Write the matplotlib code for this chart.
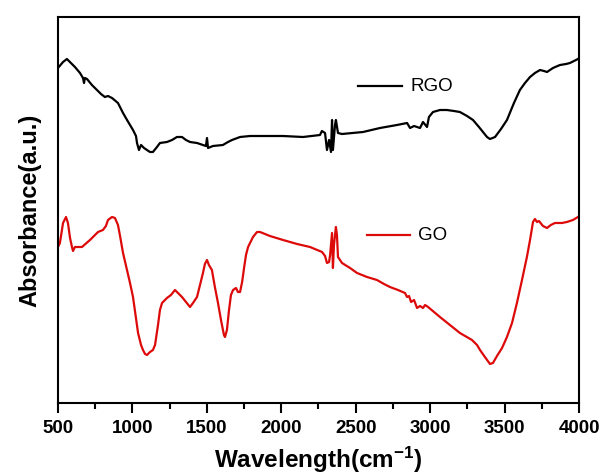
import matplotlib
matplotlib.use("Agg")
import matplotlib.pyplot as plt
from matplotlib.ticker import MultipleLocator

plt.rcParams["font.family"] = ["Liberation Sans", "DejaVu Sans"]
plt.rcParams["mathtext.fontset"] = "custom"
plt.rcParams["mathtext.rm"] = "Liberation Sans"
plt.rcParams["mathtext.bf"] = "Liberation Sans:bold"
plt.rcParams["mathtext.default"] = "bf"

# RGO spectrum (wavenumber, absorbance a.u.)
rgo_x = [500, 534, 560, 587, 614, 648, 668, 675, 681, 695, 728, 762, 789, 815, 836,
         863, 903, 937, 964, 1004, 1024, 1031, 1044, 1058, 1078, 1098, 1118, 1138, 1165,
         1185, 1232, 1266, 1299, 1333, 1360, 1387, 1434, 1474, 1494, 1501, 1508, 1541,
         1608, 1642, 1669, 1723, 1790, 2012, 2146, 2260, 2273, 2294, 2307, 2321, 2334,
         2341, 2347, 2361, 2367, 2381, 2408, 2549, 2663, 2777, 2845, 2865, 2892, 2932,
         2952, 2979, 2992, 3019, 3066, 3113, 3160, 3200, 3248, 3288, 3328, 3355, 3382,
         3402, 3436, 3476, 3516, 3563, 3603, 3637, 3671, 3704, 3738, 3765, 3785, 3825,
         3872, 3913, 3939, 3993, 4000]
rgo_y = [3.35, 3.41, 3.44, 3.40, 3.36, 3.30, 3.25, 3.20, 3.25, 3.24, 3.18, 3.13, 3.09,
         3.06, 3.07, 3.05, 3.00, 2.90, 2.83, 2.73, 2.67, 2.60, 2.53, 2.58, 2.55, 2.53,
         2.51, 2.51, 2.56, 2.60, 2.61, 2.63, 2.66, 2.66, 2.63, 2.61, 2.60, 2.58, 2.57,
         2.65, 2.55, 2.57, 2.58, 2.61, 2.63, 2.66, 2.67, 2.67, 2.66, 2.68, 2.72, 2.70,
         2.53, 2.63, 2.51, 2.83, 2.53, 2.78, 2.83, 2.70, 2.69, 2.71, 2.75, 2.78, 2.80,
         2.75, 2.77, 2.75, 2.81, 2.76, 2.86, 2.91, 2.93, 2.93, 2.92, 2.91, 2.87, 2.83,
         2.76, 2.71, 2.66, 2.64, 2.66, 2.74, 2.83, 3.00, 3.13, 3.20, 3.26, 3.30, 3.33,
         3.32, 3.31, 3.35, 3.38, 3.39, 3.40, 3.44, 3.45]

# GO spectrum
go_x = [500, 513, 534, 554, 567, 581, 594, 601, 614, 661, 715, 769, 802, 822, 836, 863,
        883, 903, 917, 937, 964, 984, 1004, 1024, 1038, 1058, 1071, 1085, 1098, 1118,
        1138, 1152, 1172, 1185, 1199, 1232, 1259, 1286, 1306, 1333, 1360, 1387, 1407,
        1434, 1454, 1474, 1487, 1501, 1514, 1534, 1554, 1575, 1595, 1615, 1622, 1635,
        1649, 1662, 1676, 1696, 1709, 1723, 1737, 1750, 1763, 1777, 1810, 1837, 1857,
        1924, 2012, 2106, 2193, 2274, 2294, 2307, 2321, 2328, 2341, 2347, 2354, 2367,
        2374, 2381, 2408, 2462, 2509, 2576, 2643, 2690, 2730, 2784, 2831, 2845, 2858,
        2872, 2892, 2912, 2932, 2952, 2966, 2986, 3026, 3066, 3133, 3200, 3247, 3281,
        3315, 3335, 3368, 3402, 3422, 3449, 3483, 3516, 3550, 3583, 3617, 3650, 3671,
        3691, 3704, 3718, 3731, 3758, 3785, 3811, 3838, 3885, 3919, 3959, 3993, 4000]
go_y = [1.56, 1.60, 1.80, 1.86, 1.80, 1.65, 1.56, 1.52, 1.56, 1.56, 1.63, 1.71, 1.73,
        1.77, 1.83, 1.86, 1.85, 1.78, 1.67, 1.50, 1.33, 1.20, 1.06, 0.85, 0.70, 0.58,
        0.53, 0.49, 0.48, 0.51, 0.53, 0.58, 0.78, 0.93, 1.00, 1.05, 1.08, 1.13, 1.10,
        1.06, 1.01, 0.96, 1.00, 1.06, 1.18, 1.30, 1.39, 1.43, 1.38, 1.33, 1.16, 1.00,
        0.83, 0.68, 0.66, 0.73, 0.93, 1.08, 1.13, 1.15, 1.11, 1.11, 1.21, 1.35, 1.48,
        1.56, 1.66, 1.71, 1.71, 1.67, 1.63, 1.59, 1.56, 1.51, 1.47, 1.40, 1.41, 1.48,
        1.70, 1.35, 1.58, 1.76, 1.68, 1.46, 1.40, 1.35, 1.30, 1.26, 1.23, 1.19, 1.16,
        1.13, 1.10, 1.06, 1.07, 1.01, 1.03, 0.95, 0.97, 0.95, 0.98, 0.96, 0.91, 0.86,
        0.78, 0.70, 0.66, 0.63, 0.58, 0.53, 0.46, 0.39, 0.40, 0.47, 0.55, 0.66, 0.80,
        1.00, 1.23, 1.46, 1.63, 1.81, 1.84, 1.81, 1.82, 1.77, 1.75, 1.78, 1.80, 1.80,
        1.81, 1.83, 1.86, 1.87]

red = "#dd0a0a"

fig = plt.figure(figsize=(6.02, 4.75), dpi=100)
ax = fig.add_axes([0.0963, 0.1516, 0.8655, 0.8126])

ax.plot(rgo_x, rgo_y, color="black", lw=1.6)
ax.plot(go_x, go_y, color=red, lw=1.6)

ax.set_xlim(500, 4000)
ax.set_ylim(0, 3.86)

# legend entries drawn by hand
ax.plot([0.576, 0.660], [0.821, 0.821], color="black", lw=1.6, transform=ax.transAxes)
ax.text(0.676, 0.821, "RGO", fontsize=13.5, va="center", transform=ax.transAxes)
ax.plot([0.593, 0.676], [0.435, 0.435], color=red, lw=1.6, transform=ax.transAxes)
ax.text(0.691, 0.435, "GO", fontsize=13.5, va="center", transform=ax.transAxes)

ax.xaxis.set_major_locator(MultipleLocator(500))
ax.xaxis.set_minor_locator(MultipleLocator(250))
ax.tick_params(axis="x", which="major", direction="out", length=7, width=1.5, pad=5,
               labelsize=13.5)
ax.tick_params(axis="x", which="minor", direction="out", length=4, width=1.5)
ax.tick_params(axis="y", which="both", left=False, labelleft=False)
for lbl in ax.get_xticklabels():
    lbl.set_fontweight("bold")

for s in ax.spines.values():
    s.set_linewidth(1.5)

ax.set_xlabel("Wavelength(cm$^{-1}$)", fontsize=17.5, fontweight="bold", labelpad=6)
ax.set_ylabel("Absorbance(a.u.)", fontsize=17, fontweight="bold", labelpad=12)

fig.savefig("out.png", dpi=100)
